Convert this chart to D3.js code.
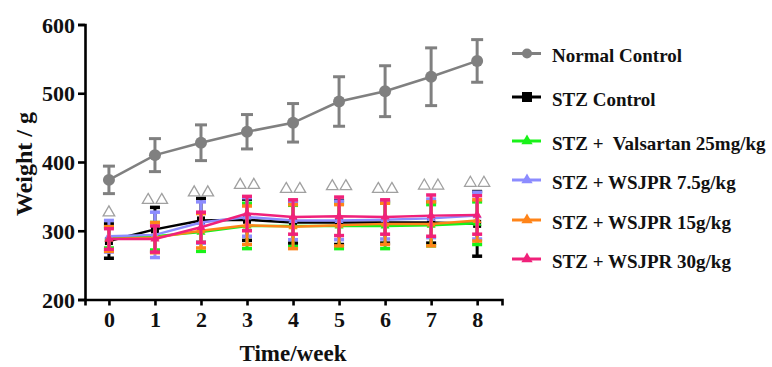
<!DOCTYPE html>
<html><head><meta charset="utf-8">
<script src="https://cdn.jsdelivr.net/npm/d3@7"></script>
<style>html,body{margin:0;padding:0;background:#fff;}svg{display:block;}</style>
</head><body>
<svg id="chart" width="772" height="367"></svg>
<script>
const weeks = [0,1,2,3,4,5,6,7,8];
const seriesNames = ["Normal Control","STZ Control","STZ +  Valsartan 25mg/kg","STZ + WSJPR 7.5g/kg","STZ + WSJPR 15g/kg","STZ + WSJPR 30g/kg"];
const seriesColors = ["#808080","#000000","#19f219","#8c8cff","#ff8419","#f0217a"];
const seriesMarkers = ["circle","square","triangle","triangle","triangle","triangle"];
const normalMean = [374,410,428,444,457,488,503,524,547];
const normalSD   = [20,24,26,25,28,36,37,42,31];
const stzMean = [285,302,315,316,312,312,312,312,310];
const stzSD   = [25,32,32,30,30,32,30,30,47];
const valMean = [290,292,298,307,307,307,307,308,311];
const valSD   = [15,20,28,33,30,33,33,30,31];
const w75Mean = [292,294,312,320,315,315,316,318,322];
const w75SD   = [23,33,30,28,28,28,28,28,34];
const w15Mean = [288,290,300,308,306,308,310,310,315];
const w15SD   = [18,22,25,28,32,30,30,32,30];
const w30Mean = [288,288,305,325,320,321,320,322,323];
const w30SD   = [15,19,22,25,25,28,25,30,28];
const annotY = [328,346,357,368,362,366,362,367,371];
const annotCount = [1,2,2,2,2,2,2,2,2];
const yTicks = [200,300,400,500,600];
const xLabel = "Time/week";
const yLabel = "Weight / g";

const means = [normalMean, stzMean, valMean, w75Mean, w15Mean, w30Mean];
const sds = [normalSD, stzSD, valSD, w75SD, w15SD, w30SD];

const svg = d3.select("#chart");
const font = "'Liberation Serif','Times New Roman',serif";
const x = d3.scaleLinear().domain([-0.52, 8.54]).range([85, 502]);
const y = d3.scaleLinear().domain([200, 600]).range([299.5, 24.5]);

// axes
const xAxis = svg.append("g").attr("transform", "translate(0,299.5)")
  .call(d3.axisBottom(x).tickValues(weeks).tickFormat(d3.format("d")).tickSizeOuter(0).tickSize(6).tickPadding(6));
const yAxis = svg.append("g").attr("transform", "translate(85,0)")
  .call(d3.axisLeft(y).tickValues(yTicks).tickSizeOuter(0).tickSize(7).tickPadding(3));
[xAxis, yAxis].forEach(g => {
  g.select(".domain").attr("stroke", "#000").attr("stroke-width", 2.6);
  g.selectAll(".tick line").attr("stroke", "#000").attr("stroke-width", 2.6);
  g.selectAll(".tick text").attr("font-family", font).attr("font-weight", "bold")
    .attr("font-size", 22).attr("fill", "#111");
});
yAxis.selectAll(".tick text").attr("dy", "0.35em");

svg.append("text").attr("x", 293).attr("y", 361).attr("text-anchor", "middle")
  .attr("font-family", font).attr("font-weight", "bold")
  .attr("font-size", 23).attr("fill", "#111").text(xLabel);
svg.append("text").attr("transform", "translate(24,164) rotate(-90)").attr("text-anchor", "middle")
  .attr("dominant-baseline", "central").attr("font-family", font).attr("font-weight", "bold")
  .attr("font-size", 24).attr("fill", "#111").text(yLabel);

function marker(g, type, cx, cy, color, s) {
  if (type === "circle") {
    g.append("circle").attr("cx", cx).attr("cy", cy).attr("r", s).attr("fill", color);
  } else if (type === "square") {
    g.append("rect").attr("x", cx - s).attr("y", cy - s).attr("width", 2*s).attr("height", 2*s).attr("fill", color);
  } else {
    g.append("path").attr("transform", `translate(${cx},${cy})`)
      .attr("d", d3.symbol().type(d3.symbolTriangle).size(s*s*2.2)()).attr("fill", color);
  }
}

// series
const line = d3.line().x((d,i) => x(weeks[i])).y(d => y(d));
means.forEach((m, si) => {
  const g = svg.append("g");
  const col = seriesColors[si];
  const capW = si === 0 ? 6 : 5;
  const sw = si === 0 ? 3 : 3.5;
  m.forEach((v, i) => {
    const cx = x(weeks[i]);
    const t = y(v + sds[si][i]), b = y(v - sds[si][i]);
    g.append("line").attr("x1", cx).attr("x2", cx).attr("y1", t).attr("y2", b)
      .attr("stroke", col).attr("stroke-width", 3);
    [t, b].forEach(yy => g.append("line").attr("x1", cx - capW).attr("x2", cx + capW)
      .attr("y1", yy).attr("y2", yy).attr("stroke", col).attr("stroke-width", sw));
  });
  g.append("path").attr("d", line(m)).attr("fill", "none").attr("stroke", col)
    .attr("stroke-width", 2.5);
  m.forEach((v, i) => marker(g, seriesMarkers[si], x(weeks[i]), y(v), col, si === 0 ? 6 : 4));
});

// significance triangles
const tri = d3.symbol().type(d3.symbolTriangle).size(58)();
weeks.forEach((w, i) => {
  const cx = x(w), cy = y(annotY[i]);
  const offs = annotCount[i] === 1 ? [0] : [-6.8, 6.8];
  offs.forEach(o => svg.append("path").attr("transform", `translate(${cx + o},${cy + 1})`)
    .attr("d", tri).attr("fill", "#fff").attr("stroke", "#a0a0a0").attr("stroke-width", 1.3));
});

// legend
const legY = [53.5, 97, 141, 180, 220, 259];
seriesNames.forEach((name, si) => {
  const g = svg.append("g");
  const yy = legY[si], col = seriesColors[si];
  g.append("line").attr("x1", 512).attr("x2", 541).attr("y1", yy).attr("y2", yy)
    .attr("stroke", col).attr("stroke-width", 3);
  marker(g, seriesMarkers[si], 527, yy, col, 5);
  g.append("text").attr("x", 552).attr("y", yy + 2).attr("dominant-baseline", "central")
    .attr("font-family", font).attr("font-weight", "bold").attr("font-size", 19)
    .attr("fill", "#111").attr("xml:space", "preserve").style("white-space", "pre").text(name);
});
</script>
</body></html>
